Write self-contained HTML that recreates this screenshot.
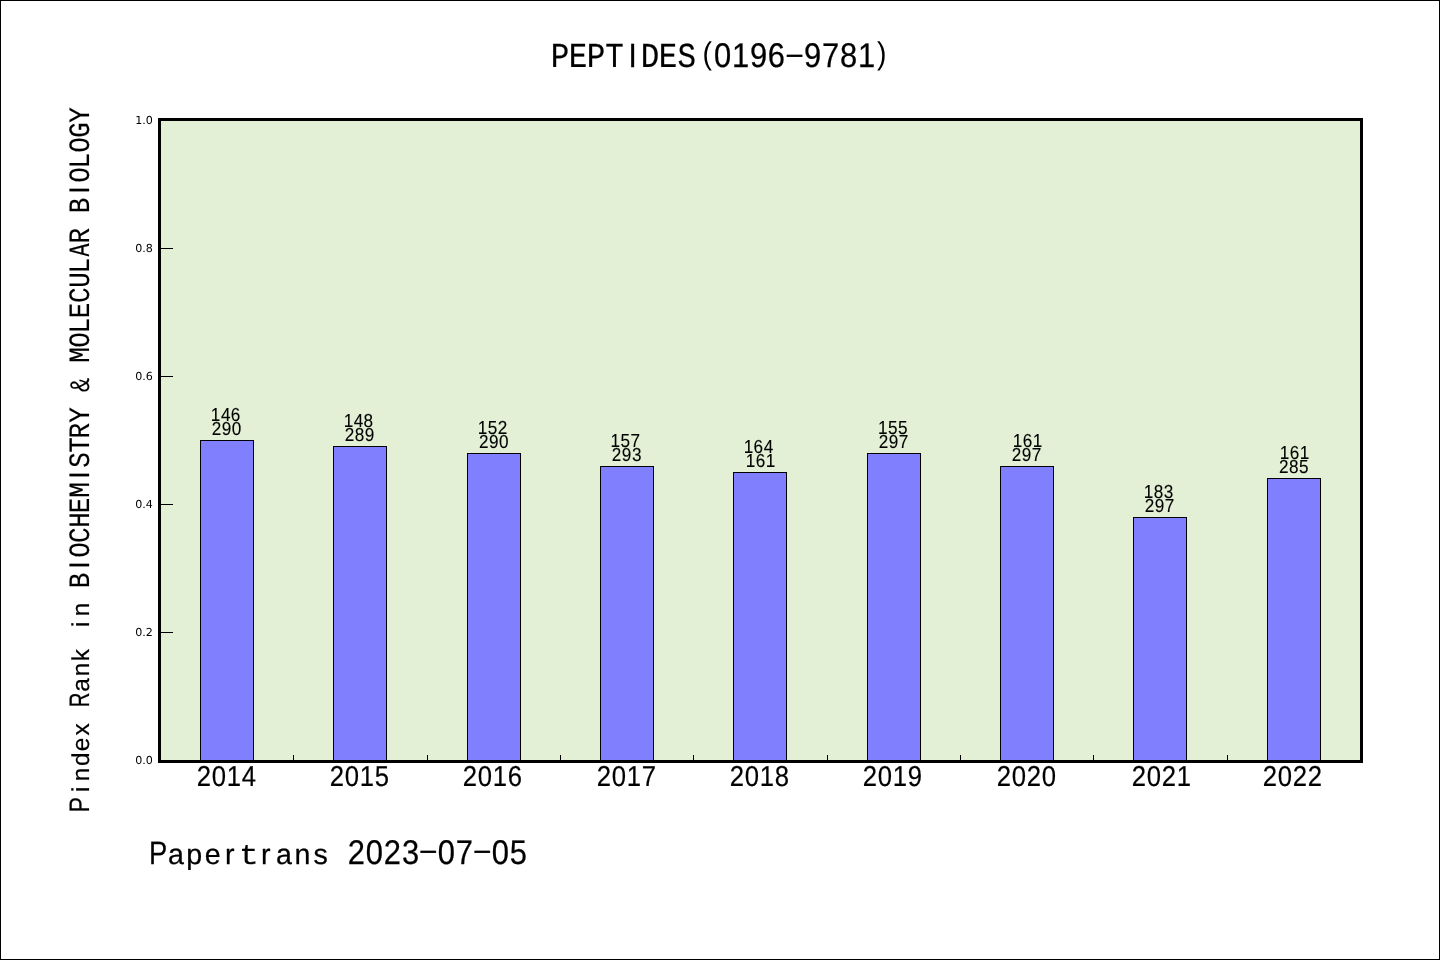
<!DOCTYPE html>
<html lang="en">
<head>
<meta charset="utf-8">
<title>PEPTIDES(0196-9781) - Pindex Rank in BIOCHEMISTRY &amp; MOLECULAR BIOLOGY</title>
<style>
html,body{margin:0;padding:0;background:#fff;}
body{width:1440px;height:960px;overflow:hidden;}
svg{display:block;}
text{fill:#000;text-rendering:geometricPrecision;}
.s{font-family:"Liberation Sans",sans-serif;}
.m{font-family:"Liberation Mono",monospace;}
.yt{font-family:"DejaVu Sans","Liberation Sans",sans-serif;font-size:11.1px;text-rendering:auto;}
</style>
</head>
<body>
<svg width="1440" height="960" viewBox="0 0 1440 960" role="img" aria-label="PEPTIDES(0196-9781): Pindex Rank in BIOCHEMISTRY &amp; MOLECULAR BIOLOGY, 2014 to 2022. Papertrans 2023-07-05">
<rect x="0" y="0" width="1440" height="960" fill="#fff"/>
<rect x="0.5" y="0.5" width="1439" height="959" fill="none" stroke="#000" stroke-width="1"/>
<rect x="159.5" y="119.5" width="1202.0" height="642.0" fill="#e3f0d5"/>
<g stroke="#000" stroke-width="1" fill="none">
<line x1="159.5" y1="761.5" x2="173" y2="761.5"/>
<line x1="159.5" y1="632.5" x2="173" y2="632.5"/>
<line x1="159.5" y1="504.5" x2="173" y2="504.5"/>
<line x1="159.5" y1="376.5" x2="173" y2="376.5"/>
<line x1="159.5" y1="248.5" x2="173" y2="248.5"/>
<line x1="159.5" y1="119.5" x2="173" y2="119.5"/>
<line x1="293.5" y1="761.5" x2="293.5" y2="755"/>
<line x1="427.5" y1="761.5" x2="427.5" y2="755"/>
<line x1="560.5" y1="761.5" x2="560.5" y2="755"/>
<line x1="693.5" y1="761.5" x2="693.5" y2="755"/>
<line x1="827.5" y1="761.5" x2="827.5" y2="755"/>
<line x1="960.5" y1="761.5" x2="960.5" y2="755"/>
<line x1="1093.5" y1="761.5" x2="1093.5" y2="755"/>
<line x1="1227.5" y1="761.5" x2="1227.5" y2="755"/>
</g>
<g fill="#8080ff" stroke="#000" stroke-width="1">
<rect x="200.5" y="440.5" width="53" height="321.0"/>
<rect x="333.5" y="446.5" width="53" height="315.0"/>
<rect x="467.5" y="453.5" width="53" height="308.0"/>
<rect x="600.5" y="466.5" width="53" height="295.0"/>
<rect x="733.5" y="472.5" width="53" height="289.0"/>
<rect x="867.5" y="453.5" width="53" height="308.0"/>
<rect x="1000.5" y="466.5" width="53" height="295.0"/>
<rect x="1133.5" y="517.5" width="53" height="244.0"/>
<rect x="1267.5" y="478.5" width="53" height="283.0"/>
</g>
<rect x="159.5" y="119.5" width="1202.0" height="642.0" fill="none" stroke="#000" stroke-width="3"/>
<g class="yt" text-anchor="end">
<text x="152.9" y="764">0.0</text>
<text x="152.9" y="636">0.2</text>
<text x="152.9" y="508">0.4</text>
<text x="152.9" y="380">0.6</text>
<text x="152.9" y="252">0.8</text>
<text x="152.9" y="124">1.0</text>
</g>
<g>
<text class="s" transform="translate(196.40,785.80) scale(0.8920,1)" font-size="28.80" text-anchor="middle" x="8.41 25.22 42.04 58.95" stroke="#000" stroke-width="0.2">2014</text>
<text class="s" transform="translate(329.40,785.80) scale(0.8920,1)" font-size="28.80" text-anchor="middle" x="8.41 25.22 42.04 58.88" stroke="#000" stroke-width="0.2">2015</text>
<text class="s" transform="translate(462.40,785.80) scale(0.8920,1)" font-size="28.80" text-anchor="middle" x="8.41 25.22 42.04 58.76" stroke="#000" stroke-width="0.2">2016</text>
<text class="s" transform="translate(596.40,785.80) scale(0.8920,1)" font-size="28.80" text-anchor="middle" x="8.41 25.22 42.04 58.84" stroke="#000" stroke-width="0.2">2017</text>
<text class="s" transform="translate(729.40,785.80) scale(0.8920,1)" font-size="28.80" text-anchor="middle" x="8.41 25.22 42.04 58.86" stroke="#000" stroke-width="0.2">2018</text>
<text class="s" transform="translate(862.40,785.80) scale(0.8920,1)" font-size="28.80" text-anchor="middle" x="8.41 25.22 42.04 58.86" stroke="#000" stroke-width="0.2">2019</text>
<text class="s" transform="translate(996.40,785.80) scale(0.8920,1)" font-size="28.80" text-anchor="middle" x="8.41 25.22 42.04 58.86" stroke="#000" stroke-width="0.2">2020</text>
<text class="s" transform="translate(1131.40,785.80) scale(0.8920,1)" font-size="28.80" text-anchor="middle" x="8.41 25.22 42.04 58.86" stroke="#000" stroke-width="0.2">2021</text>
<text class="s" transform="translate(1262.40,785.80) scale(0.8920,1)" font-size="28.80" text-anchor="middle" x="8.41 25.22 42.04 58.86" stroke="#000" stroke-width="0.2">2022</text>
</g>
<g>
<text class="s" transform="translate(210.60,420.70) scale(0.9120,1)" font-size="18.80" text-anchor="middle" x="5.48 16.51 27.35" stroke="#000" stroke-width="0.1">146</text>
<text class="s" transform="translate(211.60,434.90) scale(0.9120,1)" font-size="18.80" text-anchor="middle" x="5.48 16.45 27.41" stroke="#000" stroke-width="0.1">290</text>
<text class="s" transform="translate(343.40,426.70) scale(0.9120,1)" font-size="18.80" text-anchor="middle" x="5.48 16.51 27.41" stroke="#000" stroke-width="0.1">148</text>
<text class="s" transform="translate(344.50,440.90) scale(0.9120,1)" font-size="18.80" text-anchor="middle" x="5.48 16.45 27.42" stroke="#000" stroke-width="0.1">289</text>
<text class="s" transform="translate(477.50,433.70) scale(0.9120,1)" font-size="18.80" text-anchor="middle" x="5.48 16.47 27.41" stroke="#000" stroke-width="0.1">152</text>
<text class="s" transform="translate(478.80,447.90) scale(0.9120,1)" font-size="18.80" text-anchor="middle" x="5.48 16.45 27.41" stroke="#000" stroke-width="0.1">290</text>
<text class="s" transform="translate(610.30,446.70) scale(0.9120,1)" font-size="18.80" text-anchor="middle" x="5.48 16.47 27.40" stroke="#000" stroke-width="0.1">157</text>
<text class="s" transform="translate(611.60,460.90) scale(0.9120,1)" font-size="18.80" text-anchor="middle" x="5.48 16.45 27.47" stroke="#000" stroke-width="0.1">293</text>
<text class="s" transform="translate(743.40,452.70) scale(0.9120,1)" font-size="18.80" text-anchor="middle" x="5.48 16.38 27.47" stroke="#000" stroke-width="0.1">164</text>
<text class="s" transform="translate(745.60,466.90) scale(0.9120,1)" font-size="18.80" text-anchor="middle" x="5.48 16.38 27.41" stroke="#000" stroke-width="0.1">161</text>
<text class="s" transform="translate(877.70,433.70) scale(0.9120,1)" font-size="18.80" text-anchor="middle" x="5.48 16.47 27.43" stroke="#000" stroke-width="0.1">155</text>
<text class="s" transform="translate(878.50,447.90) scale(0.9120,1)" font-size="18.80" text-anchor="middle" x="5.48 16.45 27.40" stroke="#000" stroke-width="0.1">297</text>
<text class="s" transform="translate(1012.60,446.70) scale(0.9120,1)" font-size="18.80" text-anchor="middle" x="5.48 16.38 27.41" stroke="#000" stroke-width="0.1">161</text>
<text class="s" transform="translate(1011.60,460.90) scale(0.9120,1)" font-size="18.80" text-anchor="middle" x="5.48 16.45 27.40" stroke="#000" stroke-width="0.1">297</text>
<text class="s" transform="translate(1143.40,497.70) scale(0.9120,1)" font-size="18.80" text-anchor="middle" x="5.48 16.45 27.47" stroke="#000" stroke-width="0.1">183</text>
<text class="s" transform="translate(1144.60,511.90) scale(0.9120,1)" font-size="18.80" text-anchor="middle" x="5.48 16.45 27.40" stroke="#000" stroke-width="0.1">297</text>
<text class="s" transform="translate(1279.50,458.70) scale(0.9120,1)" font-size="18.80" text-anchor="middle" x="5.48 16.38 27.41" stroke="#000" stroke-width="0.1">161</text>
<text class="s" transform="translate(1278.70,472.90) scale(0.9120,1)" font-size="18.80" text-anchor="middle" x="5.48 16.45 27.43" stroke="#000" stroke-width="0.1">285</text>
</g>
<g>
<text class="m" transform="translate(551.50,67.10) scale(0.8800,1)" font-size="35.00" text-anchor="middle" x="9.78 30.21 50.69 71.60 92.05 112.00 132.48 153.60" stroke="#000" stroke-width="0.2">PEPT<tspan class="s" font-size="33.60" stroke-width="0.4">I</tspan>DES</text><text class="s" transform="translate(695.50,67.25) scale(0.9000,1)" font-size="34.30" text-anchor="middle" x="13.11 30.00 50.00 70.01 89.88 110.00 130.01 149.98 170.00 190.00 206.89" stroke="#000" stroke-width="0.25"><tspan font-size="31.56" stroke="none" dy="-3.41">(</tspan><tspan dy="3.41">0</tspan>196<tspan font-size="26.75" textLength="22.92" lengthAdjust="spacingAndGlyphs" dy="-4.74">-</tspan><tspan dy="4.74">9</tspan>781<tspan font-size="31.56" stroke="none" dy="-3.41">)</tspan></text>
</g>
<g>
<text class="s" transform="translate(88.80,811.90) rotate(-90) scale(1.0000,1)" font-size="24.40" text-anchor="middle" x="7.17 22.51 37.48 52.77 67.52 82.49 97.50 112.14 126.98 142.48 156.66 172.50 187.51 202.48" stroke="#000" stroke-width="0.2"><tspan font-size="28.20" textLength="15.23" lengthAdjust="spacingAndGlyphs">P</tspan>index <tspan font-size="28.20" textLength="14.78" lengthAdjust="spacingAndGlyphs">R</tspan>ank in</text>
<text class="m" transform="translate(88.80,587.50) rotate(-90) scale(0.8800,1)" font-size="29.50" text-anchor="middle" x="7.91 25.57 42.62 59.47 76.71 93.35 110.80 127.84 145.04 161.94 178.19 196.03 213.07 229.88 247.16 264.21 281.26 297.52 314.94 332.20 349.45 365.70 383.53 399.78 417.61 434.05 451.70 468.76 485.02 502.85 519.98 536.94" stroke="#000" stroke-width="0.15">B<tspan class="s" font-size="28.20" stroke-width="0.35">I</tspan>OCHEM<tspan class="s" font-size="28.20" stroke-width="0.35">I</tspan>STRY <tspan class="s" font-size="27.00" textLength="16.24" lengthAdjust="spacingAndGlyphs">&amp;</tspan> MOLECUL<tspan textLength="14.67" lengthAdjust="spacingAndGlyphs">A</tspan>R B<tspan class="s" font-size="28.20" stroke-width="0.35">I</tspan>OLOGY</text>
</g>
<g>
<text class="s" transform="translate(149.60,863.80) scale(1.0000,1)" font-size="28.60" text-anchor="middle" x="8.60 26.39 44.68 63.03 80.29 99.18 116.29 134.39 152.98 171.12" stroke="#000" stroke-width="0.25"><tspan font-size="32.50" textLength="18.27" lengthAdjust="spacingAndGlyphs">P</tspan>aper<tspan class="m" textLength="19.79" lengthAdjust="spacingAndGlyphs" stroke-width="0.15">t</tspan>rans</text>
<text class="s" transform="translate(347.40,864.20) scale(0.9000,1)" font-size="34.30" text-anchor="middle" x="10.00 30.00 50.00 70.10 90.00 110.00 129.98 150.00 170.00 190.03" stroke="#000" stroke-width="0.25">2023<tspan font-size="26.75" textLength="22.92" lengthAdjust="spacingAndGlyphs" dy="-4.74">-</tspan><tspan dy="4.74">0</tspan>7<tspan font-size="26.75" textLength="22.92" lengthAdjust="spacingAndGlyphs" dy="-4.74">-</tspan><tspan dy="4.74">0</tspan>5</text>
</g>
</svg>
</body>
</html>
